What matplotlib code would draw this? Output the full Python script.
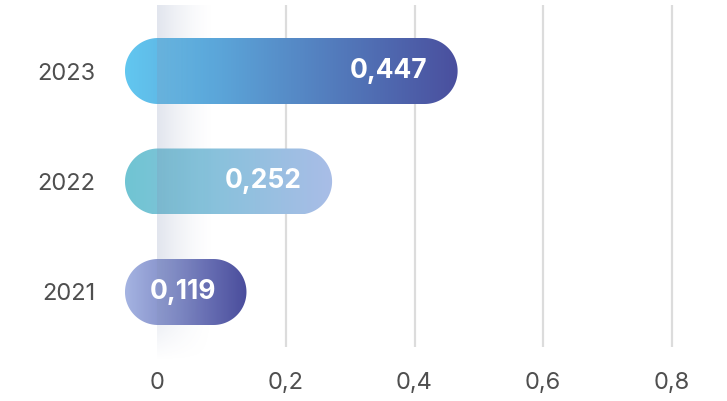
import numpy as np
import matplotlib.pyplot as plt
from matplotlib.patches import Polygon
from matplotlib.colors import LinearSegmentedColormap

years = ["2021", "2022", "2023"]
values = [0.119, 0.252, 0.447]
value_labels = ["0,119", "0,252", "0,447"]
xticks = [0, 0.2, 0.4, 0.6, 0.8]
xtick_labels = ["0", "0,2", "0,4", "0,6", "0,8"]
bar_colors = [("#a5b4e2", "#4a4d9c"),   # 2021
              ("#70c5d3", "#a9bde7"),   # 2022
              ("#62c7f0", "#4a4f9e")]   # 2023

plt.rcParams['font.family'] = ['Inter', 'DejaVu Sans']

fig = plt.figure(figsize=(7.27, 4.01), dpi=100)
W, H = 727, 401
x0_px, x08_px = 157, 672
xs = (x08_px - x0_px) / 0.8          # px per x unit
ax_l_px, ax_top_px, ax_bot_px = 120, 5, 347
ax = fig.add_axes([ax_l_px / W, (H - ax_bot_px) / H, (W - ax_l_px) / W, (ax_bot_px - ax_top_px) / H])
xmin = (ax_l_px - x0_px) / xs
xmax = (W - x0_px) / xs
ys = 110.5                           # px per category
ymin = -55 / ys
ymax = 2 + 66 / ys

for s in ax.spines.values():
    s.set_visible(False)

# grid lines
for t in xticks[1:]:
    ax.axvline(t, color="#dcdcdc", lw=1.6, zorder=0)


def pill(x_left, x_right, yc, rx, ry):
    # stadium shape with true semicircle ends (in screen terms)
    a1 = np.linspace(np.pi / 2, 3 * np.pi / 2, 60)
    a2 = np.linspace(-np.pi / 2, np.pi / 2, 60)
    lx = x_left + rx + rx * np.cos(a1)
    ly = yc + ry * np.sin(a1)
    rx_ = x_right - rx + rx * np.cos(a2)
    ry_ = yc + ry * np.sin(a2)
    return np.column_stack([np.r_[lx, rx_], np.r_[ly, ry_]])


bar_h = 66 / ys
rad = 33 / xs
left = -rad * 0.97
for i, (v, lab, (c1, c2)) in enumerate(zip(values, value_labels, bar_colors)):
    right = v + 0.02
    patch = Polygon(pill(left, right, i, rad, bar_h / 2), closed=True, fc="none", ec="none")
    ax.add_patch(patch)
    cmap = LinearSegmentedColormap.from_list("g%d" % i, [c1, c2])
    grad = np.linspace(0, 1, 256).reshape(1, -1)
    im = ax.imshow(grad, cmap=cmap, aspect="auto", extent=(left, right, i - bar_h / 2, i + bar_h / 2),
                   zorder=2, interpolation="bicubic")
    im.set_clip_path(patch)
    ax.text(right - 30 / xs, i, lab, color="white", fontsize=19, fontweight="bold",
            ha="right", va="center", zorder=4)

# soft shadow strip along zero line
strip = np.zeros((200, 100, 4))
strip[..., 0] = 0.52
strip[..., 1] = 0.58
strip[..., 2] = 0.72
fade_x = np.linspace(1, 0, 100) ** 1.5
fade_y = np.ones(200)
fade_y[165:] = np.linspace(1, 0, 35)
strip[..., 3] = 0.24 * np.outer(fade_y, fade_x)
ax.imshow(strip, aspect="auto", extent=(0, 58 / xs, ymin - 14 / ys, ymax), origin="upper",
          zorder=3, interpolation="bilinear", clip_on=False)

ax.set_xlim(xmin, xmax)
ax.set_ylim(ymin, ymax)

ax.set_xticks(xticks, xtick_labels)
ax.set_yticks([0, 1, 2], years)
ax.tick_params(length=0, labelsize=17, labelcolor="#4f4f4f")
ax.tick_params(axis="x", pad=18)
ax.tick_params(axis="y", pad=18)

fig.savefig("out.png", dpi=100)
